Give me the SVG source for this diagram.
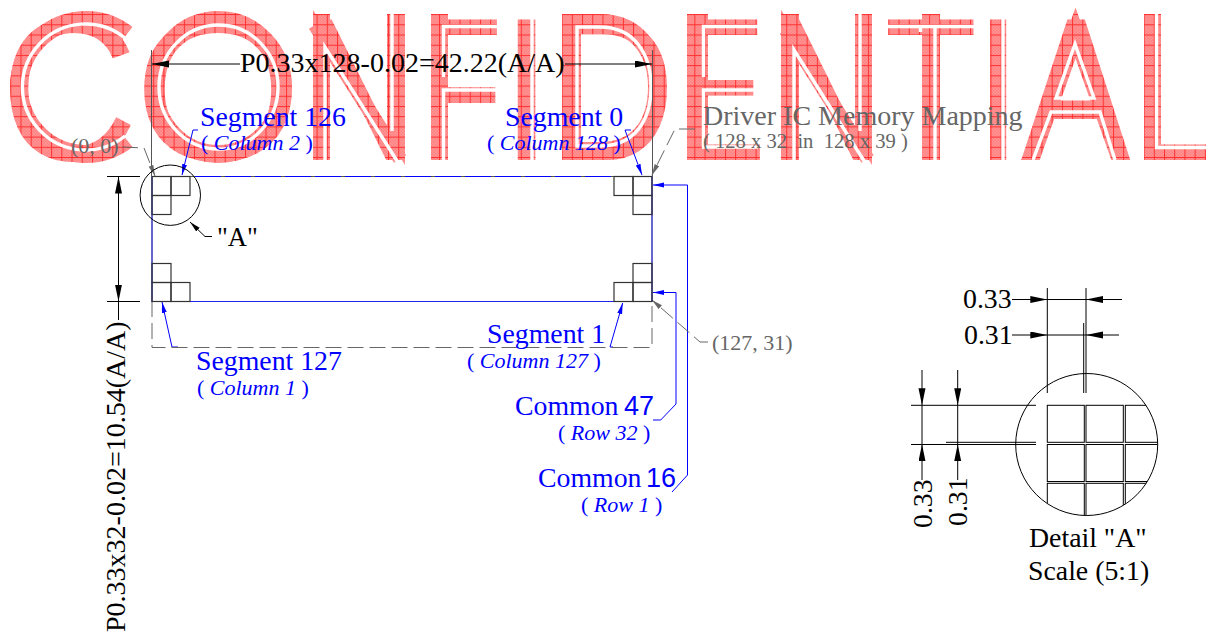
<svg xmlns="http://www.w3.org/2000/svg" width="1208" height="633" viewBox="0 0 1208 633">
<style>
text{font-family:"Liberation Serif","Times New Roman",serif;fill:#000}
.t{font-size:28px}
.u{font-size:27.8px}
.s{font-size:22px}
.b{fill:#0000ff}
.g{fill:#666}
.i{font-style:italic}
.n{font-family:"Liberation Sans",Arial,sans-serif;font-size:27px;fill:#0000ff}
.w{font-family:"Liberation Sans",Arial,sans-serif;font-size:204px;fill:#fff}
.gap{fill:none;stroke:#000;stroke-width:3.4}
.fat{fill:none;stroke:#fff;stroke-miterlimit:12}
line,polyline{fill:none}
.k{stroke:#000;stroke-width:1}
.d{stroke:#555;stroke-width:1}
.bl{stroke:#0000ff;stroke-width:1;fill:none}
.ds{stroke:#666;stroke-width:1;fill:none;stroke-dasharray:16 6}
.sq{fill:none;stroke:#333;stroke-width:1.2}
.ka{marker-end:url(#ak)}
.kb{marker-end:url(#akb)}
.ba{marker-end:url(#ab)}
.ga{marker-end:url(#ag)}
</style>
<defs>
<marker id="ak" markerUnits="userSpaceOnUse" markerWidth="18" markerHeight="8" refX="17" refY="3.5" orient="auto"><polygon points="0,0 17,3.5 0,7" fill="#000"/></marker>
<marker id="akb" markerUnits="userSpaceOnUse" markerWidth="12" markerHeight="6" refX="11" refY="2.5" orient="auto"><polygon points="0,0 11,2.5 0,5" fill="#000"/></marker>
<marker id="ab" markerUnits="userSpaceOnUse" markerWidth="12" markerHeight="6" refX="11" refY="2.5" orient="auto"><polygon points="0,0 11,2.5 0,5" fill="#0000ff"/></marker>
<marker id="ag" markerUnits="userSpaceOnUse" markerWidth="12" markerHeight="6" refX="11" refY="2.5" orient="auto"><polygon points="0,0 11,2.5 0,5" fill="#666"/></marker>
<pattern id="dither" patternUnits="userSpaceOnUse" width="3" height="3"><rect width="3" height="3" fill="#ff9696"/><rect width="1.5" height="1.5" fill="#ff8080"/><rect x="1.5" y="1.5" width="1.5" height="1.5" fill="#ff8080"/></pattern>
<pattern id="grid" patternUnits="userSpaceOnUse" x="0.07" y="3.88" width="10.21" height="10.21"><rect x="0" width="1" height="10.21" fill="#ff3030"/><rect y="0" width="10.21" height="1" fill="#ff3030"/></pattern>
<mask id="wm" maskUnits="userSpaceOnUse" x="0" y="0" width="1208" height="180">
<text class="w" transform="translate(0.5,160) scale(.934,1)">C</text>
<text class="w" transform="translate(134,160) scale(1.06,1)">O</text>
<text class="w" transform="translate(300.7,160) scale(.794,1)">N</text>
<text class="w" transform="translate(420,160) scale(.66,1)">F</text>
<text class="w" transform="translate(500.5,160) scale(.92,1)">I</text>
<text class="w" transform="translate(547.9,160) scale(.865,1)">D</text>
<text class="w" transform="translate(676.3,160) scale(.657,1)">E</text>
<text class="w" transform="translate(768.8,160) scale(.785,1)">N</text>
<text class="w" transform="translate(884.8,160) scale(.74,1)">T</text>
<text class="w" transform="translate(973.9,160) scale(.85,1)">I</text>
<text class="w" transform="translate(1021,160) scale(.805,1)">A</text>
<text class="w" transform="translate(1133.5,160) scale(.68,1)">L</text>
<g fill="#fff">
<rect x="431" y="14" width="17" height="146"/><rect x="687" y="14" width="21" height="146"/><rect x="922" y="14" width="18" height="146"/><rect x="1144" y="14" width="17" height="146"/><rect x="562" y="14" width="19" height="146"/>
<rect x="313" y="14" width="17" height="146"/><rect x="387" y="14" width="18" height="146"/><rect x="781" y="14" width="18" height="146"/><rect x="855" y="14" width="17" height="146"/>
<polygon points="313,10 340,50 313,50"/><polygon points="781,10 808,50 781,50"/><polygon points="405,165 380,125 405,125"/><polygon points="872,165 847,125 872,125"/>
</g>
<g class="fat">
<path stroke-width="18" d="M127 34A67 67 0 1 0 127 140"/>
<ellipse stroke-width="18" cx="218.5" cy="87" rx="64.5" ry="67"/>
<path stroke-width="18" d="M570 23H600C640 23 657 55 657 87C657 122 640 151 600 151H570"/>
<line stroke-width="14.4" x1="315" y1="25" x2="400" y2="159"/>
<line stroke-width="14.4" x1="786" y1="30" x2="867.6" y2="159"/>
<polyline stroke-width="17" points="1030,162 1075.5,33 1121,162"/>
<line stroke-width="17" x1="1045" y1="109" x2="1106" y2="109"/>
</g>
<rect x="1015" y="160" width="125" height="12" fill="#000"/>
<g class="gap">
<path d="M125 38A63 63 0 1 0 125 136"/>
<ellipse cx="218.5" cy="87" rx="59.5" ry="62"/>
<path d="M325 160V47L399 164M392 14V131"/>
<path d="M497 26.5H443.5V77M497 90H443.5V160"/>
<path d="M532 14V160"/>
<path d="M577 27H600C635 27 651 55 651 87C651 120 635 146 600 146H577Z"/>
<path d="M758 26.5H703.5V77M758 90H703.5V147H758"/>
<path d="M794 160V50L866 164M860 14V131"/>
<path d="M888 26.5H974M935 26.5V160M920.5 26V32"/>
<path d="M1003 14V160"/>
<path d="M1075 44L1056 98H1094Z"/>
<path d="M1033 160L1051 112H1100L1115 160"/>
<path d="M1156.5 14V147.5H1208"/>
</g>
</mask>
<clipPath id="dc"><circle cx="1086.7" cy="444.5" r="71"/></clipPath>
</defs>
<g id="watermark" mask="url(#wm)">
<rect width="1208" height="180" fill="url(#dither)"/>
<rect width="1208" height="180" fill="url(#grid)"/>
</g>
<g id="connectors">
<line class="d" x1="151.5" y1="50" x2="151.5" y2="176"/>
<line class="d" x1="652.5" y1="50" x2="652.5" y2="176"/>
<line class="k ka" x1="240" y1="64" x2="152" y2="64"/>
<line class="k ka" x1="565" y1="64" x2="652" y2="64"/>
<line class="k" x1="107" y1="176.5" x2="140" y2="176.5"/>
<line class="k" x1="107" y1="301.5" x2="140" y2="301.5"/>
<line class="k ka" x1="118.5" y1="240" x2="118.5" y2="176.5"/>
<line class="k ka" x1="118.5" y1="240" x2="118.5" y2="301.5"/>
<line class="k" x1="118.5" y1="301.5" x2="118.5" y2="320"/>
<polyline class="k kb" points="212,236.5 205,236.5 190,222"/>
<polyline class="bl ba" points="198,130 193,130 182,175"/>
<polyline class="bl ba" points="631,130 625,130 642,175"/>
<polyline class="bl ba" points="613,347 610,347 622.7,303"/>
<polyline class="bl ba" points="178,347 172,347 162,302"/>
<polyline class="bl ba" points="672,492 687.5,475 687.5,185 653,185"/>
<polyline class="bl ba" points="653,420 660.7,420 676,404 676,292.5 653,292.5"/>
<polyline class="ds ga" points="122,147 144,148 155,176"/>
<polyline class="ds ga" points="695,129 675,129 652,175"/>
<polyline class="ds ga" points="708,342 700,342 652,300"/>
<polyline class="ds" points="152,301 152,347.5 652,347.5 652,301" stroke-dasharray="14 7"/>
<line class="k" x1="1047.3" y1="299.5" x2="1086" y2="299.5"/>
<line class="k" x1="1047.3" y1="335" x2="1086" y2="335"/>
<line class="k ka" x1="1012" y1="299.5" x2="1047.3" y2="299.5"/>
<line class="k ka" x1="1122" y1="299.5" x2="1086" y2="299.5"/>
<line class="k ka" x1="1012" y1="335" x2="1047.3" y2="335"/>
<line class="k ka" x1="1119" y1="335" x2="1086" y2="335"/>
<line class="k" x1="922" y1="405.3" x2="922" y2="444.3"/>
<line class="k" x1="957.7" y1="405.3" x2="957.7" y2="444.3"/>
<line class="k ka" x1="922" y1="370" x2="922" y2="405.3"/>
<line class="k ka" x1="922" y1="480" x2="922" y2="444.3"/>
<line class="k ka" x1="957.7" y1="370" x2="957.7" y2="405.3"/>
<line class="k ka" x1="957.7" y1="480" x2="957.7" y2="444.3"/>
<line class="k" x1="1047.3" y1="288" x2="1047.3" y2="393"/>
<line class="k" x1="1086" y1="288" x2="1086" y2="393"/>
<line class="k" x1="1083.7" y1="323" x2="1083.7" y2="393"/>
<line class="k" x1="911" y1="405.3" x2="1036" y2="405.3"/>
<line class="k" x1="911" y1="444.5" x2="1036" y2="444.5"/>
<line class="k" x1="946" y1="442.3" x2="1036" y2="442.3"/>
</g>
<g id="panel">
<rect x="152" y="176.5" width="500" height="125" fill="none" stroke="#555" stroke-width="1"/>
<path d="M152 301.5H652V176.5" fill="none" stroke="#2222ee" stroke-width="1"/>
<path d="M152 176.5V301.5" fill="none" stroke="#2222ee" stroke-width="1"/>
<line x1="195" y1="176.5" x2="650" y2="176.5" stroke="#0000ff" stroke-dasharray="26 4"/>
<g id="cells-top-left"><rect class="sq" x="152" y="176.5" width="19" height="19"/><rect class="sq" x="171" y="176.5" width="19" height="19"/><rect class="sq" x="152" y="195.5" width="19" height="19"/></g>
<g id="cells-top-right"><rect class="sq" x="614" y="176.5" width="19" height="19"/><rect class="sq" x="633" y="176.5" width="19" height="19"/><rect class="sq" x="633" y="195.5" width="19" height="19"/></g>
<g id="cells-bottom-left"><rect class="sq" x="152" y="263.5" width="19" height="19"/><rect class="sq" x="152" y="282.5" width="19" height="19"/><rect class="sq" x="171" y="282.5" width="19" height="19"/></g>
<g id="cells-bottom-right"><rect class="sq" x="633" y="263.5" width="19" height="19"/><rect class="sq" x="614" y="282.5" width="19" height="19"/><rect class="sq" x="633" y="282.5" width="19" height="19"/></g>
<circle id="circle-a" cx="170.3" cy="195.2" r="30.2" fill="none" stroke="#000" stroke-width="1"/>
</g>
<g id="detail-a">
<circle cx="1086.7" cy="444.5" r="71" fill="none" stroke="#000" stroke-width="1"/>
<g clip-path="url(#dc)" fill="none" stroke="#000" stroke-width="1">
<rect x="1047.3" y="405.3" width="37" height="37"/><rect x="1086" y="405.3" width="37.3" height="37"/><rect x="1125.3" y="405.3" width="37" height="37"/>
<rect x="1047.3" y="444.5" width="37" height="37"/><rect x="1086" y="444.5" width="37.3" height="37"/><rect x="1125.3" y="444.5" width="37" height="37"/>
<rect x="1047.3" y="483.3" width="37" height="37"/><rect x="1086" y="483.3" width="37.3" height="37"/><rect x="1125.3" y="483.3" width="37" height="37"/>
</g>
</g>
<g id="labels">
<text class="t" x="240" y="72">P0.33x128-0.02=42.22(A/A)</text>
<text class="t" transform="translate(125,632) rotate(-90)">P0.33x32-0.02=10.54(A/A)</text>
<text class="t" x="217" y="246" style="font-size:26.5px">"A"</text>
<text class="s g" x="71" y="153">(0, 0)</text>
<text class="s g" x="712" y="350">(127, 31)</text>
<text class="t g" x="703" y="125">Driver IC Memory Mapping</text>
<text class="s g" x="703" y="148" style="font-size:20.6px;white-space:pre">( 128 x 32  in  128 x 39 )</text>
<text class="u b" x="200" y="126">Segment 126</text>
<text class="s b" x="201" y="150" style="white-space:pre">( <tspan class="i">Column 2</tspan> )</text>
<text class="u b" x="505" y="126">Segment 0</text>
<text class="s b" x="487" y="150" style="white-space:pre">( <tspan class="i">Column 128</tspan> )</text>
<text class="u b" x="487" y="343">Segment 1</text>
<text class="s b" x="467" y="368" style="white-space:pre">( <tspan class="i">Column 127</tspan> )</text>
<text class="u b" x="196" y="370">Segment 127</text>
<text class="s b" x="197" y="395" style="white-space:pre">( <tspan class="i">Column 1</tspan> )</text>
<text class="u b" x="515" y="415">Common</text>
<text class="n" x="624" y="415">47</text>
<text class="s b" x="558" y="440" style="white-space:pre">( <tspan class="i">Row 32</tspan> )</text>
<text class="u b" x="538" y="487">Common</text>
<text class="n" x="646" y="487">16</text>
<text class="s b" x="581" y="512" style="white-space:pre">( <tspan class="i">Row 1</tspan> )</text>
<text class="u" x="963" y="308">0.33</text>
<text class="u" x="964" y="344">0.31</text>
<text class="u" transform="translate(932,528) rotate(-90)">0.33</text>
<text class="u" transform="translate(967,526) rotate(-90)">0.31</text>
<text class="u" x="1029" y="547">Detail "A"</text>
<text class="u" x="1028" y="580">Scale (5:1)</text>
</g>
</svg>
